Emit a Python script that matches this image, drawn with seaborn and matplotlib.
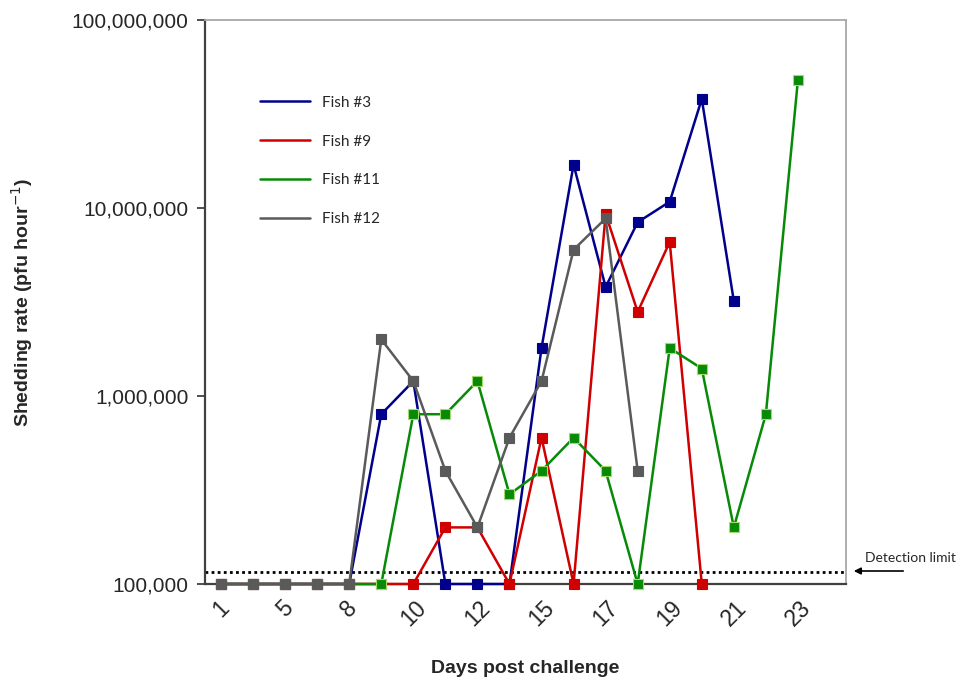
import numpy as np
import pandas as pd
import matplotlib
matplotlib.use("Agg")
from matplotlib import pyplot as plt
from matplotlib.lines import Line2D
from matplotlib.ticker import FuncFormatter, FixedLocator, NullLocator
import seaborn as sns

# sampling days (only every other one is labelled on the axis)
days = ["1", "3", "5", "7", "8", "9", "10", "11", "12", "14",
        "15", "16", "17", "18", "19", "20", "21", "22", "23"]

fish_names = ["Fish #3", "Fish #9", "Fish #11", "Fish #12"]
fish3 = [100000, 100000, 100000, 100000, 100000, 800000, 1200000, 100000, 100000,
         100000, 1800000, 17000000, 3800000, 8400000, 10800000, 38000000, 3200000]
fish9 = [100000, 100000, 100000, 100000, 100000, 100000, 100000, 200000, 200000,
         100000, 600000, 100000, 9300000, 2800000, 6600000, 100000]
fish11 = [100000, 100000, 100000, 100000, 100000, 100000, 800000, 800000, 1200000,
          300000, 400000, 600000, 400000, 100000, 1800000, 1400000, 200000, 800000, 48000000]
fish12 = [100000, 100000, 100000, 100000, 100000, 2000000, 1200000, 400000, 200000,
          600000, 1200000, 6000000, 8800000, 400000]
detection_limit = 116000

colors = {"Fish #3": "#00008C", "Fish #9": "#D00000", "Fish #11": "#078A07", "Fish #12": "#5A5A5A"}
edges = {"Fish #3": "#00008C", "Fish #9": "#D00000", "Fish #11": "#A6D96A", "Fish #12": "#5A5A5A"}

rows = []
for name, vals in zip(fish_names, [fish3, fish9, fish11, fish12]):
    for i, v in enumerate(vals):
        rows.append({"fish": name, "slot": i, "day": days[i], "rate": v})
df = pd.DataFrame(rows)

sns.set_style("white")
plt.rcParams["font.family"] = ["Liberation Sans", "DejaVu Sans"]

fig = plt.figure(figsize=(9.66, 6.82), dpi=100)
ax = fig.add_axes([205 / 966, 1 - 584 / 682, 641 / 966, 564 / 682])

for name in fish_names:
    sns.lineplot(
        data=df[df["fish"] == name],
        x="slot", y="rate",
        color=colors[name],
        marker="s", markersize=7.5,
        markeredgecolor=edges[name], markeredgewidth=0.8,
        linewidth=1.8,
        clip_on=False,
        zorder=3,
        ax=ax,
        legend=False,
    )

ax.axhline(detection_limit, color="black", linestyle=(0, (1, 1.2)), linewidth=2, zorder=2)

ax.set_yscale("log")
ax.set_ylim(1e5, 1e8)
ax.yaxis.set_major_locator(FixedLocator([1e5, 1e6, 1e7, 1e8]))
ax.yaxis.set_minor_locator(NullLocator())
ax.yaxis.set_major_formatter(FuncFormatter(lambda v, p: f"{int(round(v)):,}"))

ax.set_xlim(-0.5, len(days) + 0.5)
ax.set_xticks(range(0, len(days), 2))
ax.set_xticklabels(days[::2], rotation=45, ha="center")
ax.set_xticks(np.arange(-0.5, len(days) + 1, 1), minor=True)
ax.tick_params(axis="x", which="major", length=0, labelsize=16.5, pad=9)
ax.tick_params(axis="x", which="minor", length=6, width=1.2, color="#303030", direction="out")
ax.tick_params(axis="y", which="major", length=6, width=1.2, color="#303030", labelsize=15, pad=6,
               left=True, direction="out")

for side in ["left", "bottom"]:
    ax.spines[side].set_color("#404040")
    ax.spines[side].set_linewidth(1.6)
    ax.spines[side].set_zorder(2.5)
for side in ["top", "right"]:
    ax.spines[side].set_color("#A8A8A8")
    ax.spines[side].set_linewidth(1.3)

ax.set_xlabel("Days post challenge", fontsize=14, fontweight="bold", labelpad=21)
ax.set_ylabel("Shedding rate (pfu hour$^{-1}$)", fontsize=14, fontweight="bold", labelpad=26)

handles = [Line2D([0], [0], color=colors[n], linewidth=1.8) for n in fish_names]
ax.legend(handles, fish_names, loc="upper left", bbox_to_anchor=(0.064, 0.89),
          frameon=False, handlelength=3.3, labelspacing=1.62, handletextpad=0.8,
          prop={"family": ["Lato", "DejaVu Sans"], "size": 11})

ax.annotate("", xy=(851, 682 - 571), xycoords="figure pixels",
            xytext=(906, 682 - 571), textcoords="figure pixels",
            arrowprops=dict(arrowstyle="-|>", color="black", lw=1.2, mutation_scale=10))
fig.text(865 / 966, 1 - 558 / 682, "Detection limit", fontsize=10,
         family=["Lato", "DejaVu Sans"], va="center", ha="left")

fig.savefig("out.png", dpi=100)
